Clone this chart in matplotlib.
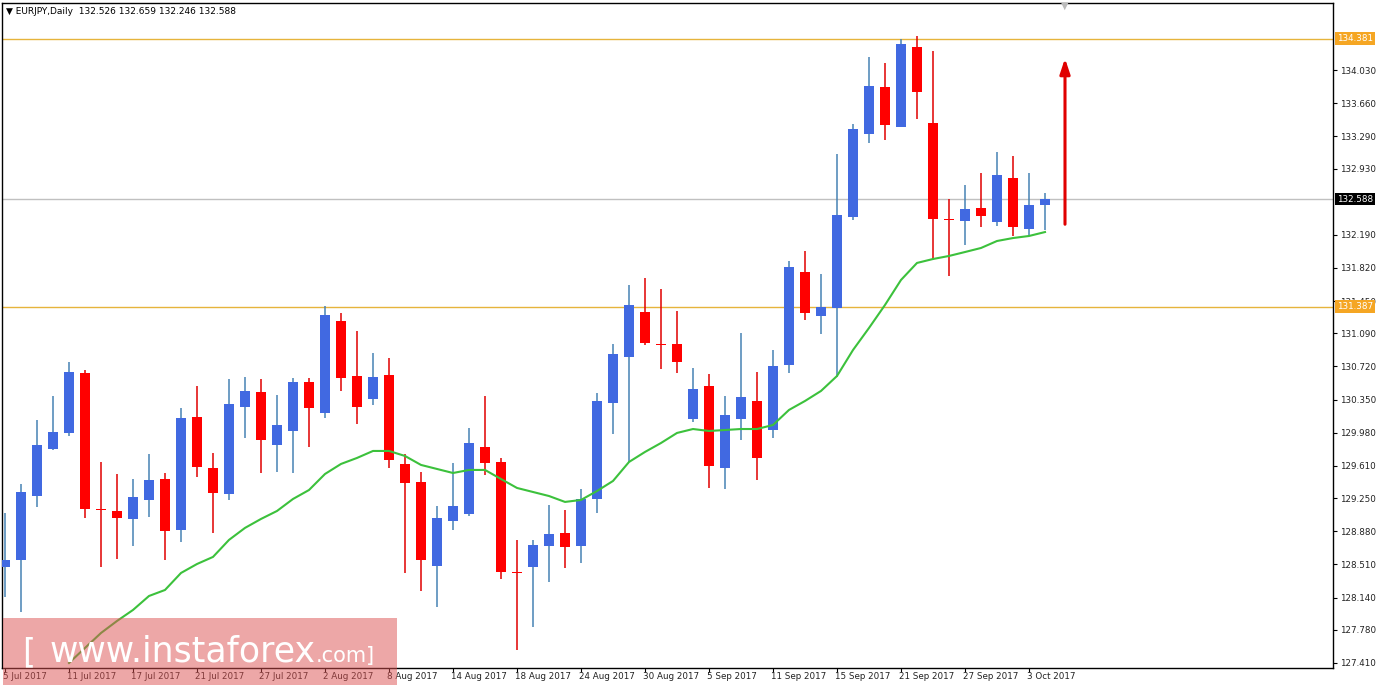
import matplotlib
matplotlib.use("Agg")
import matplotlib.pyplot as plt
from matplotlib.patches import Rectangle
import numpy as np

dates = ["5 Jul 2017", "11 Jul 2017", "17 Jul 2017", "21 Jul 2017", "27 Jul 2017", "2 Aug 2017",
         "8 Aug 2017", "14 Aug 2017", "18 Aug 2017", "24 Aug 2017", "30 Aug 2017", "5 Sep 2017",
         "11 Sep 2017", "15 Sep 2017", "21 Sep 2017", "27 Sep 2017", "3 Oct 2017"]
date_idx = [0, 4, 8, 12, 16, 20, 24, 28, 32, 36, 40, 44, 48, 52, 56, 60, 64]

opens = [128.482, 128.560, 129.274, 129.799, 129.978, 130.648, 129.118, 129.107, 129.018, 129.230,
         129.464, 128.895, 130.156, 129.587, 129.297, 130.268, 130.436, 129.844, 130.000, 130.548,
         130.201, 131.228, 130.614, 130.358, 130.625, 129.632, 129.431, 128.493, 128.996, 129.074,
         129.821, 129.654, 128.426, 128.482, 128.717, 128.862, 128.717, 129.241, 130.313, 130.826,
         131.328, 130.971, 130.971, 130.134, 130.503, 129.587, 130.134, 130.335, 130.011, 130.737,
         131.775, 131.284, 131.373, 132.389, 133.316, 133.840, 133.394, 134.287, 133.438, 132.367,
         132.344, 132.489, 132.333, 132.824, 132.255, 132.526]
highs = [129.085, 129.408, 130.123, 130.391, 130.770, 130.681, 129.654, 129.520, 129.464, 129.743,
         129.531, 130.257, 130.503, 129.755, 130.581, 130.603, 130.581, 130.403, 130.592, 130.592,
         131.396, 131.317, 131.117, 130.871, 130.815, 129.743, 129.542, 129.163, 129.643, 130.034,
         130.391, 129.699, 128.784, 128.784, 129.174, 129.118, 129.353, 130.425, 130.971, 131.630,
         131.708, 131.585, 131.340, 130.703, 130.637, 130.391, 131.094, 130.659, 130.904, 131.898,
         132.010, 131.753, 133.092, 133.427, 134.175, 134.108, 134.376, 134.410, 134.242, 132.590,
         132.746, 132.880, 133.115, 133.070, 132.880, 132.659]
lows = [128.147, 127.980, 129.152, 129.788, 129.944, 129.029, 128.482, 128.571, 128.717, 129.040,
        128.560, 128.761, 129.486, 128.862, 129.230, 129.922, 129.531, 129.542, 129.531, 129.821,
        130.145, 130.447, 130.078, 130.291, 129.587, 128.415, 128.214, 128.035, 128.895, 129.052,
        129.509, 128.348, 127.555, 127.812, 128.314, 128.471, 128.527, 129.085, 129.967, 129.654,
        130.960, 130.692, 130.648, 130.101, 129.364, 129.353, 129.900, 129.453, 129.922, 130.648,
        131.239, 131.083, 130.603, 132.355, 133.215, 133.249, 133.394, 133.483, 131.909, 131.730,
        132.076, 132.277, 132.289, 132.177, 132.188, 132.246]
closes = [128.560, 129.319, 129.844, 129.989, 130.659, 129.130, 129.113, 129.029, 129.263, 129.453,
          128.884, 130.145, 129.598, 129.308, 130.302, 130.447, 129.900, 130.067, 130.548, 130.257,
          131.295, 130.592, 130.268, 130.603, 129.676, 129.420, 128.560, 129.029, 129.163, 129.866,
          129.643, 128.426, 128.410, 128.728, 128.851, 128.705, 129.241, 130.335, 130.860, 131.407,
          130.983, 130.955, 130.770, 130.469, 129.610, 130.179, 130.380, 129.699, 130.726, 131.831,
          131.317, 131.384, 132.411, 133.371, 133.851, 133.416, 134.320, 133.784, 132.367, 132.355,
          132.478, 132.400, 132.858, 132.277, 132.523, 132.588]
ma_start = 4
ma = [127.410, 127.578, 127.745, 127.879, 128.002, 128.158, 128.225, 128.415, 128.515, 128.594,
      128.784, 128.918, 129.018, 129.107, 129.241, 129.341, 129.520, 129.632, 129.699, 129.777,
      129.777, 129.721, 129.621, 129.576, 129.531, 129.565, 129.565, 129.464, 129.364, 129.319,
      129.274, 129.208, 129.230, 129.330, 129.442, 129.654, 129.766, 129.866, 129.978, 130.022,
      130.000, 130.011, 130.022, 130.022, 130.067, 130.235, 130.335, 130.447, 130.614, 130.904,
      131.150, 131.407, 131.686, 131.876, 131.920, 131.954, 131.998, 132.043, 132.121, 132.154,
      132.177, 132.221]
yticks = [127.410, 127.780, 128.140, 128.510, 128.880, 129.250, 129.610, 129.980, 130.350, 130.720,
          131.090, 131.450, 131.820, 132.190, 132.930, 133.290, 133.660, 134.030]
res_level = 134.381
sup_level = 131.387
last_price = 132.588
arrow_from, arrow_to, arrow_x = 132.277, 134.19, 66.25

W, H = 1377, 687
fig = plt.figure(figsize=(W / 100, H / 100), dpi=100)
fig.patch.set_facecolor("white")
ax = fig.add_axes([2 / W, 19 / H, 1331 / W, 665 / H])
ax.set_xlim(-0.1875, 83.0)
ax.set_ylim(127.354, 134.778)

BLUE = "#4169E1"
RED = "#FF0000"
n = len(opens)
x = np.arange(n)
o = np.array(opens); c = np.array(closes); h = np.array(highs); l = np.array(lows)
up = c >= o
for i in range(n):
    ax.vlines(i, l[i], h[i], color=("#4682B4" if up[i] else "#E00000"), lw=1.1, zorder=2)
body_bottom = np.minimum(o, c)
body_h = np.maximum(np.abs(c - o), 0.012)
ax.bar(x, body_h, bottom=body_bottom, width=0.62, color=[BLUE if u else RED for u in up],
       edgecolor="none", zorder=3)

ax.plot(np.arange(ma_start, ma_start + len(ma)), ma, color="#3CC13C", lw=1.5, zorder=4)

ax.axhline(res_level, color="#E6B43C", lw=1.0, zorder=1)
ax.axhline(sup_level, color="#E6B43C", lw=1.0, zorder=1)
ax.axhline(last_price, color="#C0C0C0", lw=1.0, zorder=1)

ax.annotate("", xy=(arrow_x, arrow_to), xytext=(arrow_x, arrow_from),
            arrowprops=dict(arrowstyle="-|>,head_length=0.9,head_width=0.3", color="#E00000", lw=2.2),
            zorder=5)

for s in ax.spines.values():
    s.set_color("black"); s.set_linewidth(1.0)
ax.yaxis.tick_right()
ax.set_yticks(yticks)
ax.set_yticklabels([f"{v:.3f}" for v in yticks], fontsize=6.3, color="#222222")
ax.tick_params(axis="y", length=3, pad=2, direction="out")
ax.set_xticks(date_idx)
ax.set_xticklabels([])
ax.tick_params(axis="x", length=3, direction="out")
for d, i in zip(dates, date_idx):
    ax.text(i - 0.15, -0.006, d, transform=ax.get_xaxis_transform(), ha="left", va="top",
            fontsize=6.3, color="#222222", clip_on=False)

def price_box(val, fc, tc):
    ax.text(1.003, val, f"{val:.3f}", transform=ax.get_yaxis_transform(), ha="left", va="center",
            fontsize=6.3, color=tc, clip_on=False, zorder=10,
            bbox=dict(boxstyle="square,pad=0.2", fc=fc, ec="none"))
price_box(res_level, "#F5A623", "white")
price_box(sup_level, "#F5A623", "white")
price_box(last_price, "black", "white")

fig.text(6 / W, 1 - 12 / H, "\u25BC EURJPY,Daily  132.526 132.659 132.246 132.588", fontsize=6.5,
         color="black", va="center", ha="left")
fig.text(1065 / W, 1 - 6 / H, "\u25BC", fontsize=7, color="#BBBBBB", ha="center", va="center")

fig.patches.append(Rectangle((3 / W, 2 / H), 394 / W, 67 / H, transform=fig.transFigure,
                             facecolor="#DC5050", alpha=0.5, edgecolor="none", zorder=20))
base = 1 - 662 / H
fig.text(22 / W, base, "[", fontsize=24, color="white", va="baseline", zorder=21)
fig.text(50 / W, base, "www.instaforex", fontsize=25, color="white", va="baseline", zorder=21)
fig.text(316 / W, base, ".com", fontsize=15, color="white", va="baseline", zorder=21)
fig.text(366 / W, base, "]", fontsize=15, color="white", va="baseline", zorder=21)

fig.savefig("out.png", dpi=100)
